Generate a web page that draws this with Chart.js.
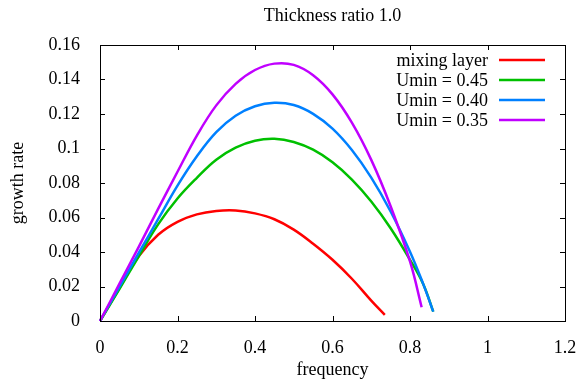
<!DOCTYPE html>
<html>
<head>
<meta charset="utf-8">
<script src="https://cdn.jsdelivr.net/npm/chart.js@4/dist/chart.umd.min.js"></script>
<style>
  body { margin: 0; background: #fff; }
</style>
</head>
<body>
<canvas id="myChart" width="585" height="385"></canvas>
<script>
// Values
const titleText = 'Thickness ratio 1.0';
const xTicks = [0, 0.2, 0.4, 0.6, 0.8, 1, 1.2];
const yTicks = [0, 0.02, 0.04, 0.06, 0.08, 0.1, 0.12, 0.14, 0.16];

const seriesNames = ['mixing layer', 'Umin = 0.45', 'Umin = 0.40', 'Umin = 0.35'];
const seriesColors = ['#ff0000', '#00c000', '#0080ff', '#c000ff'];

const mixFreq = [0, 0.05, 0.1, 0.15, 0.2, 0.25, 0.3, 0.35, 0.4, 0.45, 0.5, 0.55, 0.6, 0.65, 0.7, 0.735];
const mixRate = [0, 0.019, 0.0375, 0.050, 0.0575, 0.0618, 0.0638, 0.0641, 0.0624, 0.059, 0.053, 0.0448, 0.0355, 0.0245, 0.0118, 0.0035];

const u45Freq = [0, 0.05, 0.1, 0.15, 0.2, 0.25, 0.3, 0.35, 0.4, 0.45, 0.5, 0.55, 0.6, 0.65, 0.7, 0.75, 0.8, 0.834, 0.86];
const u45Rate = [0, 0.0185, 0.0375, 0.056, 0.071, 0.083, 0.0935, 0.1005, 0.1045, 0.1056, 0.1038, 0.0993, 0.092, 0.082, 0.0693, 0.0538, 0.0355, 0.0215, 0.0054];

const u40Freq = [0, 0.05, 0.1, 0.15, 0.2, 0.25, 0.3, 0.35, 0.4, 0.45, 0.5, 0.55, 0.6, 0.65, 0.7, 0.75, 0.8, 0.834, 0.86];
const u40Rate = [0, 0.0198, 0.0395, 0.059, 0.0785, 0.0955, 0.1095, 0.119, 0.1245, 0.1265, 0.1252, 0.1201, 0.1115, 0.0991, 0.0831, 0.0635, 0.0402, 0.0215, 0.0054];

const u35Freq = [0, 0.05, 0.1, 0.15, 0.2, 0.25, 0.3, 0.35, 0.4, 0.45, 0.5, 0.55, 0.6, 0.65, 0.7, 0.75, 0.8, 0.83];
const u35Rate = [0, 0.0215, 0.043, 0.065, 0.0865, 0.1075, 0.125, 0.1375, 0.1455, 0.1492, 0.1485, 0.1425, 0.1314, 0.115, 0.0934, 0.0665, 0.0345, 0.008];

const FONT = "'Liberation Serif', 'Times New Roman', serif";

function toPoints(xs, ys) {
    return xs.map((x, i) => ({ x: x, y: ys[i] }));
}

const allFreq = [mixFreq, u45Freq, u40Freq, u35Freq];
const allRate = [mixRate, u45Rate, u40Rate, u35Rate];

const datasets = seriesNames.map((name, i) => ({
    label: name,
    data: toPoints(allFreq[i], allRate[i]),
    borderColor: seriesColors[i],
    backgroundColor: seriesColors[i],
    borderWidth: 2.5,
    pointRadius: 0,
    showLine: true,
    fill: false,
    tension: 0.4,
    order: 4 - i,
    clip: 3,
}));

// gnuplot-like frame, inward ticks, title and key
const framePlugin = {
    id: 'frame',
    afterDraw(chart) {
        const { ctx, chartArea: a, scales: { x, y } } = chart;
        ctx.save();
        ctx.strokeStyle = '#000';
        ctx.lineWidth = 1;
        ctx.strokeRect(a.left + 0.5, a.top + 0.5, a.right - a.left, a.bottom - a.top);
        ctx.beginPath();
        xTicks.forEach(v => {
            const px = Math.round(x.getPixelForValue(v)) + 0.5;
            ctx.moveTo(px, a.bottom); ctx.lineTo(px, a.bottom - 5);
            ctx.moveTo(px, a.top); ctx.lineTo(px, a.top + 5);
        });
        yTicks.forEach(v => {
            const py = Math.round(y.getPixelForValue(v)) + 0.5;
            ctx.moveTo(a.left, py); ctx.lineTo(a.left + 5, py);
            ctx.moveTo(a.right, py); ctx.lineTo(a.right - 5, py);
        });
        ctx.stroke();

        ctx.fillStyle = '#000';
        ctx.font = '18px ' + FONT;
        ctx.textAlign = 'center';
        ctx.textBaseline = 'middle';
        ctx.fillText(titleText, (a.left + a.right) / 2, 16);

        // key
        ctx.textAlign = 'right';
        chart.data.datasets.forEach((ds, i) => {
            const ry = a.top + 15 + i * 20;
            ctx.fillStyle = '#000';
            ctx.fillText(ds.label, a.right - 77, ry + 1);
            ctx.strokeStyle = ds.borderColor;
            ctx.lineWidth = 2.5;
            ctx.beginPath();
            ctx.moveTo(a.right - 66, ry);
            ctx.lineTo(a.right - 20, ry);
            ctx.stroke();
        });
        ctx.restore();
    }
};

const ctx = document.getElementById('myChart').getContext('2d');
const myChart = new Chart(ctx, {
    type: 'scatter',
    data: { datasets: datasets },
    options: {
        responsive: false,
        animation: false,
        layout: { padding: { top: 45, right: 20, bottom: 0, left: 0 } },
        plugins: {
            legend: { display: false },
            title: { display: false },
            tooltip: { enabled: false },
        },
        scales: {
            x: {
                type: 'linear',
                min: 0,
                max: 1.2,
                afterBuildTicks: s => { s.ticks = xTicks.map(v => ({ value: v })); },
                afterFit: s => { s.height = 64; },
                grid: { display: false },
                border: { display: false },
                ticks: {
                    color: '#000',
                    font: { family: FONT, size: 18 },
                    padding: 8,
                    maxRotation: 0,
                    callback: v => String(v),
                },
                title: {
                    display: true,
                    text: 'frequency',
                    color: '#000',
                    font: { family: FONT, size: 18 },
                    padding: { top: 0, bottom: 4 },
                },
            },
            y: {
                type: 'linear',
                min: 0,
                max: 0.16,
                afterBuildTicks: s => { s.ticks = yTicks.map(v => ({ value: v })); },
                afterFit: s => { s.width = 100; },
                grid: { display: false },
                border: { display: false },
                ticks: {
                    color: '#000',
                    font: { family: FONT, size: 18 },
                    padding: 12,
                    callback: v => String(v),
                },
                title: {
                    display: true,
                    text: 'growth rate',
                    color: '#000',
                    font: { family: FONT, size: 18 },
                    padding: { top: 7, bottom: 0 },
                },
            },
        },
    },
    plugins: [framePlugin],
});
</script>
</body>
</html>
